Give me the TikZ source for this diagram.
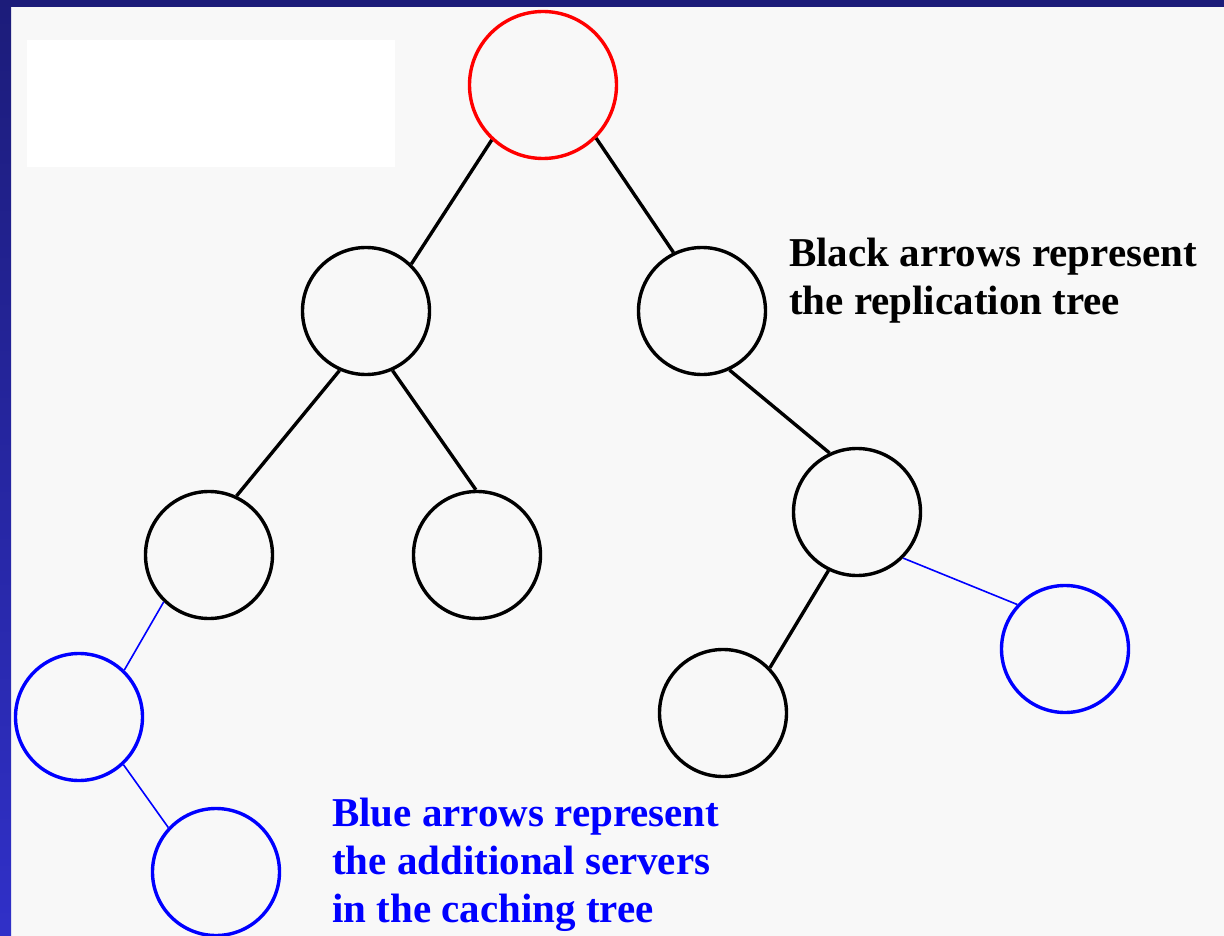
\documentclass[tikz,border=0pt]{standalone}
\usepackage{fontspec}
\setmainfont{Liberation Serif}
\usepackage{tikz}
\usetikzlibrary{positioning}
\definecolor{slideGray}{HTML}{F8F8F8}
\definecolor{slideNavy}{HTML}{1C1C7A}
\definecolor{slideRoyal}{HTML}{3030C8}
\definecolor{treeRed}{HTML}{FF0000}
\definecolor{treeBlue}{HTML}{0000FF}
\tikzset{
  server/.style={
    circle,
    draw=black,
    line width=3.4pt,
    minimum size=127pt,
    inner sep=0pt
  },
  rootServer/.style={
    server,
    draw=treeRed,
    minimum size=147pt
  },
  cacheServer/.style={
    server,
    draw=treeBlue
  },
  replEdge/.style={
    line width=3.4pt,
    draw=black
  },
  cacheEdge/.style={
    line width=1.6pt,
    draw=treeBlue
  },
  note/.style={
    anchor=north west,
    align=left,
    inner sep=0pt,
    font=\fontsize{41}{48}\selectfont\bfseries
  }
}

\begin{document}
\begin{tikzpicture}[x=1pt,y=-1pt]
  % slide background
  \fill[slideGray] (0,0) rectangle (1224,936);
  \useasboundingbox (0,0) rectangle (1224,936);
  \shade[top color=slideNavy,bottom color=slideRoyal] (0,0) rectangle (11,936);
  \fill[slideNavy] (0,0) rectangle (1224,7);
  \fill[white] (27,40) rectangle (395,167);
  % replication tree
  \node[rootServer] (root) at (543,85) {};
  \node[server] (left) at (366,311) {};
  \node[server] (right) at (702,311) {};
  \node[server] (leftA) at (209,555) {};
  \node[server] (leftB) at (477,555) {};
  \node[server] (rightA) at (857,512) {};
  \node[server] (rightB) at (723,713) {};
  % caching servers
  \node[cacheServer] (cacheLeft) at (79,717) {};
  \node[cacheServer] (cacheBottom) at (216,872) {};
  \node[cacheServer] (cacheRight) at (1065,649) {};
  \node[note] (blackNote) at (789,238) {Black arrows represent\\the replication tree};
  \node[note,text=treeBlue] (blueNote) at (332,798) {Blue arrows represent\\the additional servers\\in the caching tree};
  \draw[replEdge] (root.-133) -- (left.46);
  \draw[replEdge] (root.-45) -- (right.116);
  \draw[replEdge] (left.-114) -- (leftA.65);
  \draw[replEdge] (left.-66) -- (leftB.91);
  \draw[replEdge] (right.-65) -- (rightA.115);
  \draw[replEdge] (rightA.-116) -- (rightB.44);
  \draw[cacheEdge] (leftA.-134) -- (cacheLeft.46);
  \draw[cacheEdge] (cacheLeft.-47) -- (cacheBottom.137);
  \draw[cacheEdge] (rightA.-45) -- (cacheRight.137);
\end{tikzpicture}
\end{document}
